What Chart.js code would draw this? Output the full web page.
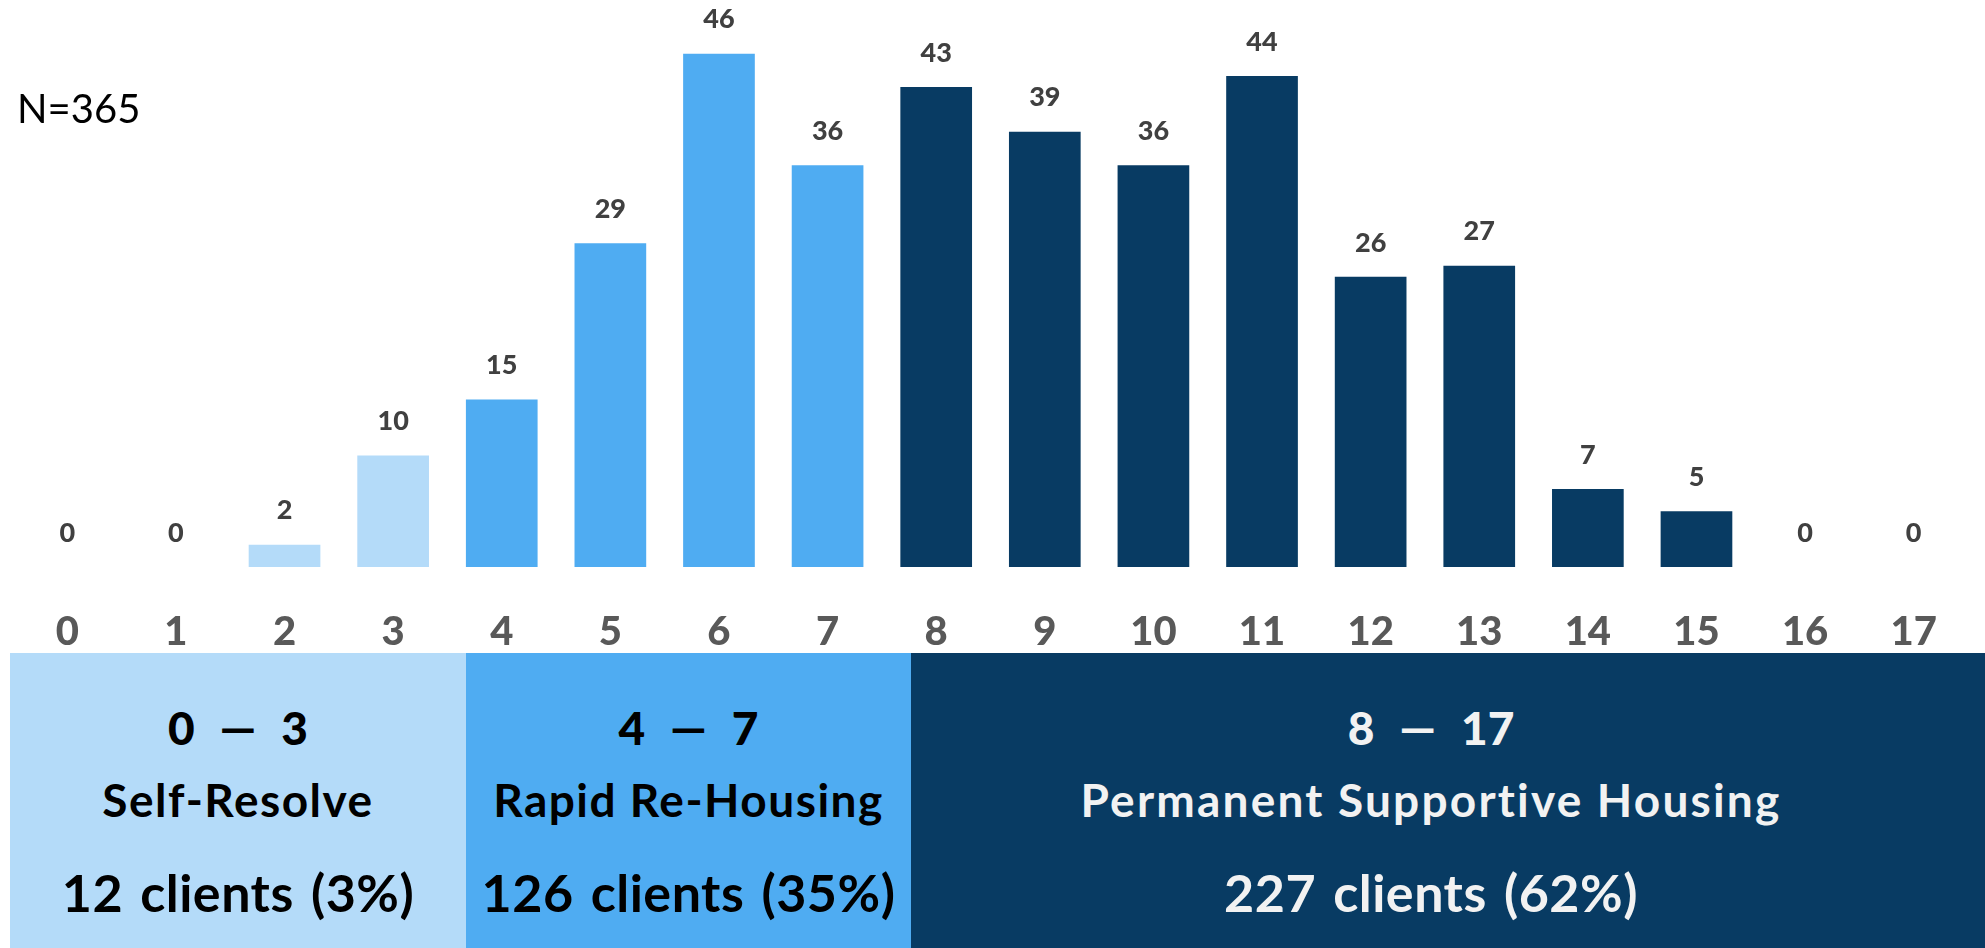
<!DOCTYPE html>
<html lang="en">

<head>
  <meta charset="UTF-8">
  <title>Score distribution</title>
  <script src="https://cdn.jsdelivr.net/npm/chart.js"></script>
  <style>
    body { margin: 0; width: 1985px; height: 948px; overflow: hidden; background: #fff; font-family: "Lato", sans-serif; }
    .chart-wrap { position: absolute; left: 0; top: 0; width: 1985px; height: 697px; }
    .n-label { position: absolute; left: 17px; top: 86px; font-size: 40px; line-height: 44px; color: #000; }
    .bands { position: absolute; left: 10px; top: 653px; width: 1975px; height: 295px; display: flex; }
    .band { position: relative; height: 100%; text-align: center; font-weight: 700; }
    .band div { position: absolute; left: 0; right: 0; white-space: nowrap; }
    .band.dark div { right: 34px; }
    .range { top: 50px; font-size: 46px; line-height: 50px; font-weight: 900; word-spacing: 14px; }
    .name { top: 122px; font-size: 46px; line-height: 50px; letter-spacing: 1.5px; }
    .dark .name { letter-spacing: 2.2px; }
    .count { top: 210px; font-size: 52px; line-height: 58px; letter-spacing: 0.5px; word-spacing: 4px; }
  </style>
</head>

<body>

  <div class="chart-wrap">
    <canvas id="scoreChart"></canvas>
  </div>
  <div class="n-label">N=365</div>

  <div class="bands">
    <div class="band" style="width:456px;background:#B4DBF9;color:#000">
      <div class="range">0 &mdash; 3</div>
      <div class="name">Self-Resolve</div>
      <div class="count">12 clients (3%)</div>
    </div>
    <div class="band" style="width:445px;background:#4FACF2;color:#000">
      <div class="range">4 &mdash; 7</div>
      <div class="name">Rapid Re-Housing</div>
      <div class="count">126 clients (35%)</div>
    </div>
    <div class="band dark" style="width:1074px;background:#083B63;color:#F2F2F2">
      <div class="range">8 &mdash; 17</div>
      <div class="name">Permanent Supportive Housing</div>
      <div class="count">227 clients (62%)</div>
    </div>
  </div>

  <script>
    // scores 0..17 and number of clients at each score
    const scores = ['0', '1', '2', '3', '4', '5', '6', '7', '8', '9', '10', '11', '12', '13', '14', '15', '16', '17'];
    const clients = [0, 0, 2, 10, 15, 29, 46, 36, 43, 39, 36, 44, 26, 27, 7, 5, 0, 0];

    function barColor(i) {
      if (i <= 3) return '#B4DBF9';
      if (i <= 7) return '#4FACF2';
      return '#083B63';
    }

    // little plugin to write the value above each bar
    const valueLabels = {
      id: 'valueLabels',
      afterDatasetsDraw(chart) {
        const ctx = chart.ctx;
        const meta = chart.getDatasetMeta(0);
        ctx.save();
        ctx.font = '900 27px Lato';
        ctx.fillStyle = '#404040';
        ctx.textAlign = 'center';
        ctx.textBaseline = 'middle';
        meta.data.forEach((bar, i) => {
          ctx.fillText(clients[i], bar.x, bar.y - 34);
        });
        ctx.restore();
      }
    };

    document.addEventListener('DOMContentLoaded', () => {
      const ctx = document.getElementById('scoreChart').getContext('2d');
      new Chart(ctx, {
        type: 'bar',
        data: {
          labels: scores,
          datasets: [{
            data: clients,
            backgroundColor: scores.map((s, i) => barColor(i)),
            borderWidth: 0,
            categoryPercentage: 1,
            barPercentage: 0.66,
          }],
        },
        options: {
          responsive: true,
          maintainAspectRatio: false,
          animation: false,
          layout: { padding: { left: 13, right: 17, top: 9, bottom: 0 } },
          plugins: {
            legend: { display: false },
            tooltip: { enabled: false },
          },
          scales: {
            x: {
              grid: { display: false, drawTicks: false },
              border: { display: false },
              ticks: {
                padding: 41,
                color: '#595959',
                font: { family: 'Lato', size: 40, weight: '900' },
              },
            },
            y: {
              display: false,
              min: 0,
              max: 50,
            },
          },
        },
        plugins: [valueLabels],
      });
    });
  </script>
</body>

</html>
